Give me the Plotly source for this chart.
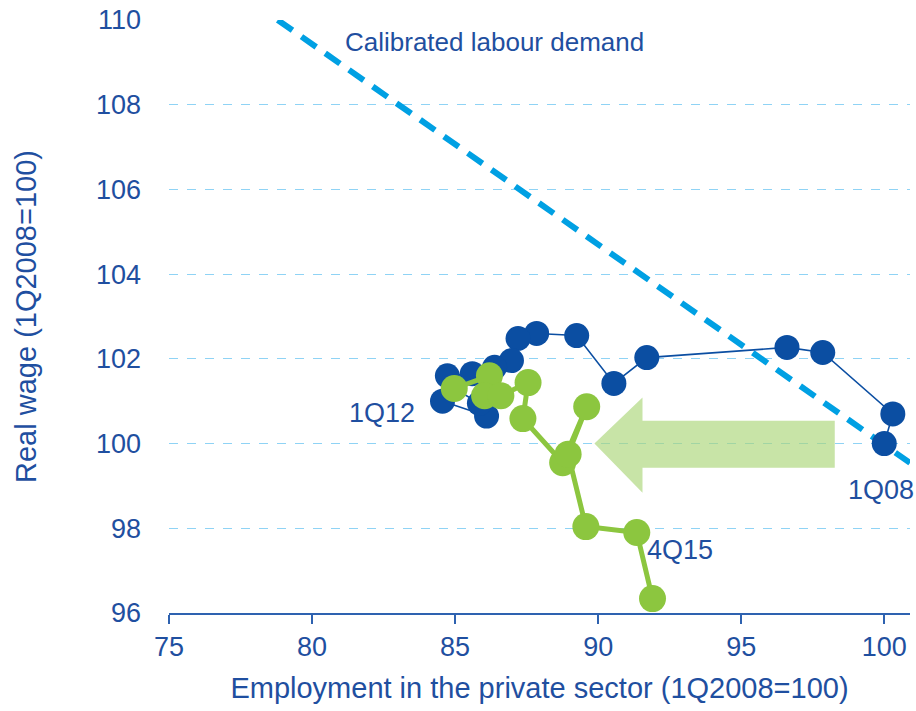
import plotly.graph_objects as go

# Real wage vs employment, 1Q08 - 1Q12 (blue)
blue_x = [100.0, 100.3, 97.85, 96.6, 91.7, 90.55, 89.25, 87.85, 87.2, 86.97, 86.38, 85.6, 84.73, 84.56, 86.1, 85.85, 84.97]
blue_y = [100.0, 100.7, 102.15, 102.27, 102.03, 101.42, 102.55, 102.6, 102.48, 101.96, 101.8, 101.65, 101.6, 101.0, 100.65, 100.95, 101.3]

# 1Q12 - 4Q15 (green)
green_x = [84.97, 86.2, 86.03, 86.6, 87.55, 87.37, 88.76, 89.6, 88.95, 89.57, 91.35, 91.9]
green_y = [101.3, 101.6, 101.13, 101.13, 101.44, 100.59, 99.55, 100.87, 99.75, 98.04, 97.9, 96.34]

# Calibrated labour demand (straight line)
demand_x = [78.8, 101.5]
demand_y = [110.0, 99.26]

x_ticks = [75, 80, 85, 90, 95, 100]
y_ticks = [96, 98, 100, 102, 104, 106, 108, 110]

# Arrow outline (annotation, data coords)
arrow_x = [98.27, 91.55, 91.55, 89.87, 91.55, 91.55, 98.27]
arrow_y = [100.54, 100.54, 101.09, 100.0, 98.84, 99.43, 99.43]

BLUE = "#0b4ea2"
GREEN = "#8cc63f"
TEXT = "#1f4fa0"
DASH = "#00a0e3"

fig = go.Figure()

path = "M " + " L ".join(f"{x},{y}" for x, y in zip(arrow_x, arrow_y)) + " Z"
fig.add_shape(type="path", path=path, xref="x", yref="y",
              fillcolor="rgba(170,214,120,0.65)", line=dict(width=0), layer="above")

fig.add_trace(go.Scatter(x=demand_x, y=demand_y, mode="lines",
                         line=dict(color=DASH, width=6, dash="18px,11px"), hoverinfo="skip"))

fig.add_trace(go.Scatter(x=blue_x, y=blue_y, mode="lines+markers",
                         line=dict(color=BLUE, width=1.6),
                         marker=dict(color=BLUE, size=25, line=dict(width=0))))

fig.add_trace(go.Scatter(x=green_x, y=green_y, mode="lines+markers",
                         line=dict(color=GREEN, width=5),
                         marker=dict(color=GREEN, size=27, line=dict(width=0))))

font = "Liberation Sans, Arial, sans-serif"

annots = [
    dict(x=86.38, y=109.48, text="Calibrated labour demand", size=26),
    dict(x=99.9, y=98.9, text="1Q08", size=27),
    dict(x=82.46, y=100.73, text="1Q12", size=27),
    dict(x=92.85, y=97.49, text="4Q15", size=27),
]
for a in annots:
    fig.add_annotation(x=a["x"], y=a["y"], text=a["text"], showarrow=False,
                       font=dict(family=font, size=a["size"], color=TEXT))

fig.update_layout(
    width=916, height=711,
    margin=dict(l=169, r=6, t=20, b=98),
    paper_bgcolor="white", plot_bgcolor="white",
    showlegend=False,
    font=dict(family=font, color=TEXT, size=20),
    xaxis=dict(range=[75, 100.9], tickvals=x_ticks, showgrid=False, zeroline=False,
               automargin=False, ticklabeloverflow="allow",
               showline=True, linecolor="#2e62b0", linewidth=2,
               ticks="outside", ticklen=9, tickwidth=2, tickcolor="#2e62b0",
               tickfont=dict(size=27, color=TEXT),
               title=dict(text="Employment in the private sector (1Q2008=100)",
                          font=dict(size=29, color=TEXT), standoff=16)),
    yaxis=dict(range=[96, 110], tickvals=y_ticks, showgrid=True, gridcolor="#8fd3f5",
               automargin=False, ticklabeloverflow="allow",
               griddash="dash", gridwidth=1, zeroline=False, showline=False, ticks="",
               tickfont=dict(size=27, color=TEXT), ticklabelstandoff=27,
               title=dict(text="Real wage (1Q2008=100)", font=dict(size=29, color=TEXT), standoff=50)),
)

# Remove the browser's default 8px body margin so the figure fills the window exactly.
fig.write_html("out.html", config={"displayModeBar": False},
               post_script="document.body.style.margin='0';document.body.style.overflow='hidden';")
